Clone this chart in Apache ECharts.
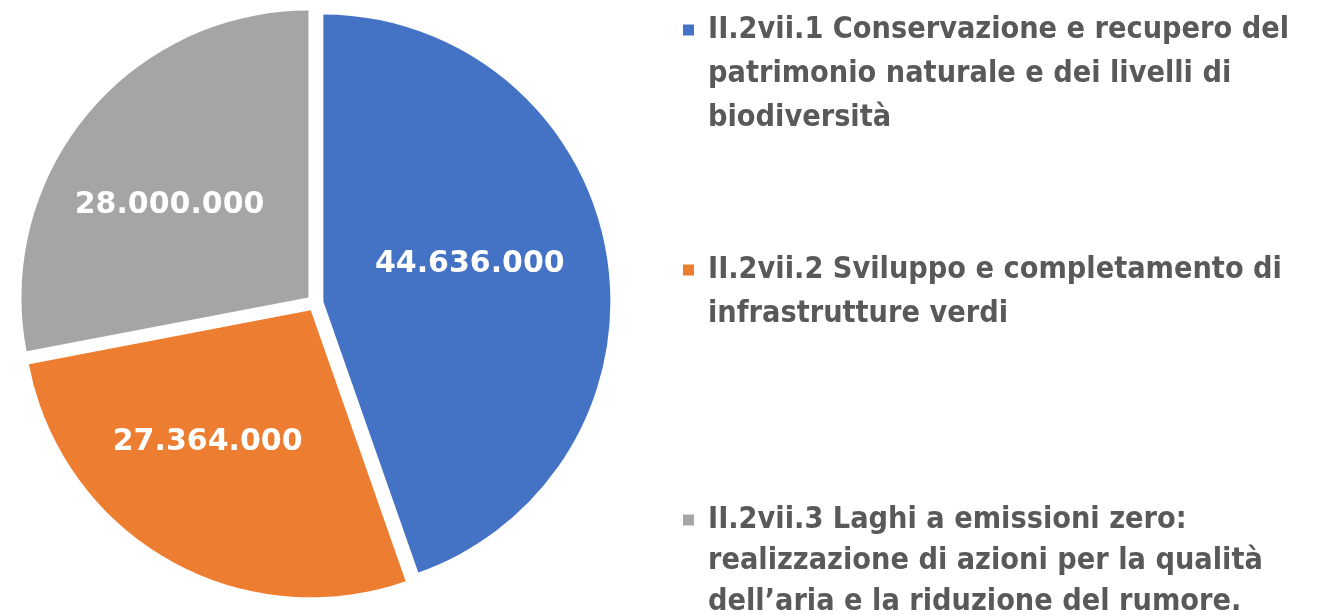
<!DOCTYPE html>
<html>
<head>
<meta charset="utf-8">
<script src="https://cdn.jsdelivr.net/npm/echarts@6/dist/echarts.min.js"></script>
<style>
html,body{margin:0;padding:0;background:#fff;}
#chart{width:1320px;height:615px;}
</style>
</head>
<body>
<div id="chart"></div>
<script>
// ---- data ----
const categories = [
  'II.2vii.1 Conservazione e recupero del patrimonio naturale e dei livelli di biodiversità',
  'II.2vii.2 Sviluppo e completamento di infrastrutture verdi',
  'II.2vii.3 Laghi a emissioni zero: realizzazione di azioni per la qualità dell\u2019aria e la riduzione del rumore.'
];
const values = [44636000, 27364000, 28000000];
const legendLines = [
  ['II.2vii.1 Conservazione e recupero del', 'patrimonio naturale e dei livelli di', 'biodiversità'],
  ['II.2vii.2 Sviluppo e completamento di', 'infrastrutture verdi'],
  ['II.2vii.3 Laghi a emissioni zero:', 'realizzazione di azioni per la qualità', 'dell\u2019aria e la riduzione del rumore.']
];

// ---- styles ----
const colors = ['#4472C4', '#ED7D31', '#A5A5A5'];
const labelShift = [[2, -13], [-30, 5], [-26, 1]];
const legendTops = [15, 255, 505];
const lineHeights = [44, 44, 41];
const legendFont = "'Liberation Sans Narrow', 'DejaVu Sans Condensed', 'Noto Sans', sans-serif";

function fmt(v) {
  return String(v).replace(/\B(?=(\d{3})+(?!\d))/g, '.');
}

const legends = categories.map((name, i) => {
  const L = lineHeights[i];
  return {
    data: [name],
    orient: 'vertical',
    left: 677,
    top: legendTops[i],
    padding: 0,
    icon: 'none',
    itemWidth: 1,
    itemHeight: 14,
    selectedMode: false,
    formatter: () => legendLines[i].map((ln, k) =>
      (k === 0 ? '{m|}{s|}' : '{ind|}') + '{t|' + ln + '}').join('\n'),
    textStyle: {
      rich: {
        m: { width: 11, height: 11, backgroundColor: colors[i], lineHeight: L, verticalAlign: 'middle' },
        s: { width: 14, height: 11, lineHeight: L },
        ind: { width: 25, height: 11, lineHeight: L },
        t: { fontSize: 30.3, fontWeight: 'bold', color: '#595959', fontFamily: legendFont, lineHeight: L, verticalAlign: 'middle' }
      }
    }
  };
});

const chart = echarts.init(document.getElementById('chart'), null, { renderer: 'canvas' });
chart.setOption({
  animation: false,
  backgroundColor: '#ffffff',
  color: colors,
  legend: legends,
  series: [{
    type: 'pie',
    center: [315, 303],
    radius: 287,
    startAngle: 90,
    clockwise: true,
    selectedMode: 'multiple',
    selectedOffset: 8.5,
    avoidLabelOverlap: false,
    emphasis: { scale: false, disabled: true },
    itemStyle: { borderWidth: 0 },
    label: {
      show: true,
      position: 'inside',
      formatter: p => fmt(p.value),
      color: '#ffffff',
      fontSize: 30,
      fontWeight: 'bold',
      fontFamily: "'DejaVu Sans', sans-serif"
    },
    labelLine: { show: false },
    labelLayout: p => ({ dx: labelShift[p.dataIndex][0], dy: labelShift[p.dataIndex][1] }),
    data: categories.map((name, i) => ({ name: name, value: values[i], selected: true }))
  }]
});
</script>
</body>
</html>
